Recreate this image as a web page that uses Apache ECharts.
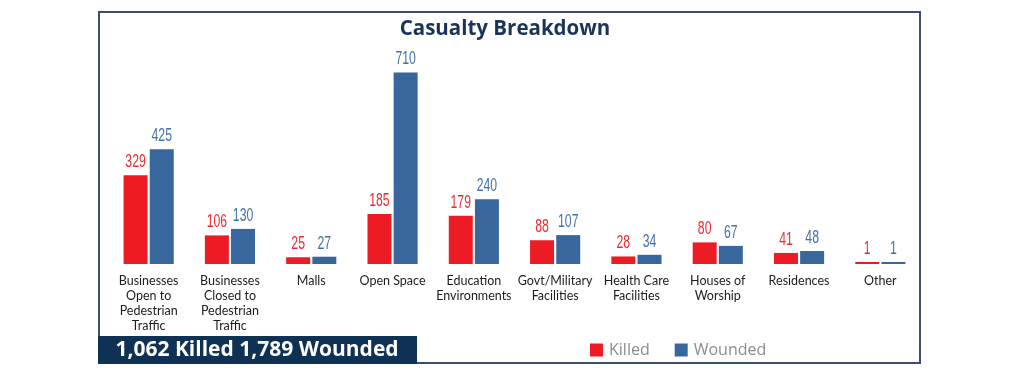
<!DOCTYPE html>
<html><head><meta charset="utf-8">
<script src="https://cdn.jsdelivr.net/npm/echarts@6/dist/echarts.min.js"></script>
<style>html,body{margin:0;padding:0;background:#fff}#c{width:1010px;height:373px}</style>
</head><body><div id="c"></div>
<script>
var categories = ["Businesses\nOpen to\nPedestrian\nTraffic","Businesses\nClosed to\nPedestrian\nTraffic","Malls","Open Space","Education\nEnvironments","Govt/Military\nFacilities","Health Care\nFacilities","Houses of\nWorship","Residences","Other"];
var killed = [329,106,25,185,179,88,28,80,41,1];
var wounded = [425,130,27,710,240,107,34,67,48,1];
var titleText = "Casualty Breakdown";
var summaryText = "1,062 Killed 1,789 Wounded";

var RED = "#ED1C24", BLUE = "#38679E", NAVY = "#0E3154", FRAME = "#3D4C74";
var chart = echarts.init(document.getElementById('c'), null, {renderer:'canvas'});

function labelSeries(name, values, dx, color){
  return {
    name:name, type:'custom', z:5, silent:true,
    data: values.map(function(v,i){ return [i, v]; }),
    encode:{x:0, y:1},
    renderItem:function(params, api){
      var v = api.value(1);
      var p = api.coord([api.value(0), v]);
      return {type:'text', x:p[0]+dx, y:Math.min(p[1], api.coord([0,0])[1]-2)-4, scaleX:0.68,
        style:{text:String(v), align:'center', verticalAlign:'bottom', fill:color,
          font:'18px "Liberation Sans",Arial,sans-serif'}};
    }
  };
}

chart.setOption({
  animation:false,
  title:{text:titleText, left:'center', top:14,
    textStyle:{fontFamily:'"Open Sans",Lato,sans-serif', fontWeight:700, fontSize:20.5, color:'#1A3459'}},
  legend:{data:['Killed','Wounded'], left:585, top:337, itemWidth:13, itemHeight:13, itemGap:25, icon:'rect',
    textStyle:{fontFamily:'"Open Sans",Lato,sans-serif', fontSize:16, color:'#8A8C8F', padding:[0,0,0,1]}},
  grid:{left:108, right:89, top:40, bottom:109},
  xAxis:{type:'category', data:categories,
    axisLine:{show:false}, axisTick:{show:false},
    axisLabel:{interval:0, margin:9, fontFamily:'Lato,"Open Sans",sans-serif', fontSize:12.5, lineHeight:15, color:'#1E1B1C', verticalAlign:'top'}},
  yAxis:{type:'value', min:0, max:830, show:false, splitLine:{show:false}},
  series:[
    {name:'Killed', type:'bar', data:killed, barWidth:24, barGap:'9%', barMinHeight:2,
     itemStyle:{color:RED}},
    {name:'Wounded', type:'bar', data:wounded, barWidth:24, barMinHeight:2,
     itemStyle:{color:BLUE}},
    labelSeries('killedLabels', killed, -13.1, '#EE2A31'),
    labelSeries('woundedLabels', wounded, 13.1, '#4470AA')
  ],
  graphic:[
    {type:'rect', shape:{x:99, y:12, width:821, height:351}, style:{fill:'none', stroke:FRAME, lineWidth:2}, z:-1},
    {type:'rect', shape:{x:98, y:336, width:319, height:28}, style:{fill:NAVY}, z:10},
    {type:'text', x:257, y:350, z:11, style:{text:summaryText, fill:'#fff', align:'center', verticalAlign:'middle',
      font:'700 21px "Open Sans",Lato,sans-serif'}}
  ]
});
</script></body></html>
